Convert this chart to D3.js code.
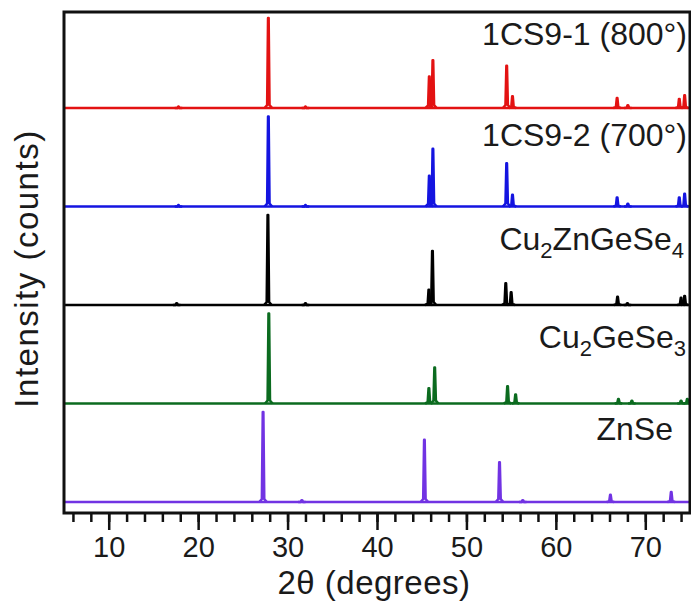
<!DOCTYPE html>
<html lang="en">
<head>
  <meta charset="UTF-8">
  <title>XRD patterns</title>
  <script src="https://d3js.org/d3.v7.min.js"></script>
  <style>
    body { margin: 0; background: #fff; }
    svg text { font-family: "Liberation Sans", Arial, sans-serif; fill: #1a1a1a; }
  </style>
</head>
<body>
<svg id="xrd"></svg>
<script>
  // Peak lists: [2theta, relative intensity %]
  const znse = [[27.26, 100], [31.6, 2], [45.3, 69], [53.7, 44], [56.3, 2], [66.1, 8], [72.9, 11]];
  const cu2gese3 = [[27.9, 100], [45.8, 17], [46.45, 40], [54.6, 19], [55.5, 10], [67.0, 5], [68.5, 3], [74.0, 3], [74.7, 5]];
  const cu2zngese4 = [[17.6, 2], [27.8, 100], [32.0, 2], [45.8, 17], [46.2, 60], [54.4, 24], [55.0, 14], [66.9, 9], [68.0, 2], [74.0, 8], [74.4, 10]];
  const cs9_2 = [[17.8, 1.5], [27.85, 100], [32.0, 1.5], [45.85, 34], [46.25, 64], [54.5, 48], [55.15, 13], [66.85, 10], [68.05, 3], [73.8, 10], [74.4, 14]];
  const cs9_1 = [[17.8, 1.5], [27.85, 100], [32.0, 1.5], [45.85, 35], [46.25, 53], [54.5, 47], [55.15, 13], [66.85, 11], [68.05, 3], [73.8, 10], [74.4, 14]];

  // bottom to top
  const series = [znse, cu2gese3, cu2zngese4, cs9_2, cs9_1];
  const names = [
    [["ZnSe"]],
    [["Cu"], ["2", "sub"], ["GeSe"], ["3", "sub"]],
    [["Cu"], ["2", "sub"], ["ZnGeSe"], ["4", "sub"]],
    [["1CS9-2 (700°)"]],
    [["1CS9-1 (800°)"]]
  ];
  const colors = ["#7133e3", "#0b6b1f", "#000000", "#1414e0", "#e31212"];
  const xTicks = [10, 20, 30, 40, 50, 60, 70];

  const W = 691, H = 604;
  const m = { left: 64, right: 690, top: 12, bottom: 513 };

  const svg = d3.select("#xrd").attr("width", W).attr("height", H);

  const x = d3.scaleLinear().domain([5, 75]).range([m.left, m.right]);
  const y = d3.scaleLinear().domain([0, 100]).range([0, 90]);
  const base = d3.scaleLinear().domain([0, series.length - 1]).range([502, 108]);

  const line = d3.line().x(d => x(d[0])).y(d => d[1]);

  // peak drawn as a sharp spike with a small foot
  function peakShape(p, i) {
    const b = base(i), h = y(p[1]);
    return [[p[0] - 0.42, b], [p[0] - 0.13, b - Math.min(3, h * 0.08)],
            [p[0] - 0.03, b - h], [p[0] + 0.03, b - h],
            [p[0] + 0.13, b - Math.min(3, h * 0.08)], [p[0] + 0.42, b]];
  }

  const plot = svg.append("g");
  series.forEach((peaks, i) => {
    const g = plot.append("g")
      .attr("stroke", colors[i]).attr("fill", "none")
      .attr("stroke-width", 2.6).attr("stroke-linejoin", "round");
    g.append("path").attr("d", line([[5, base(i)], [75, base(i)]]));
    peaks.forEach(p => g.append("path").attr("d", line(peakShape(p, i))));
  });

  // series labels
  const labelRaise = [62, 56, 55, 61, 63];
  const labelRight = [673, 686, 684, 687, 687];
  names.forEach((parts, i) => {
    const t = svg.append("text")
      .attr("x", labelRight[i]).attr("y", base(i) - labelRaise[i])
      .attr("text-anchor", "end").style("font-size", "32px");
    let down = false;
    parts.forEach(part => {
      const s = t.append("tspan").text(part[0]);
      if (part[1] === "sub") {
        s.style("font-size", "22px").attr("dy", 8);
        down = true;
      } else if (down) {
        s.attr("dy", -8);
        down = false;
      }
    });
  });

  // frame
  svg.append("rect")
    .attr("x", m.left).attr("y", m.top)
    .attr("width", m.right - m.left).attr("height", m.bottom - m.top)
    .attr("fill", "none").attr("stroke", "#111").attr("stroke-width", 3);

  // x axis with minor ticks every 2 degrees
  const axis = svg.append("g").attr("transform", `translate(0,${m.bottom})`);
  axis.call(d3.axisBottom(x)
      .tickValues(d3.range(6, 75, 2))
      .tickSize(9).tickFormat(""))
    .call(g => g.select(".domain").remove())
    .call(g => g.selectAll("line").attr("stroke", "#111").attr("stroke-width", 2.5));
  axis.append("g")
    .call(d3.axisBottom(x).tickValues(xTicks).tickSize(17).tickPadding(6))
    .call(g => g.select(".domain").remove())
    .call(g => g.selectAll("line").attr("stroke", "#111").attr("stroke-width", 2.5))
    .call(g => g.selectAll("text")
      .style("font-size", "29px")
      .style("font-family", "'Liberation Sans', Arial, sans-serif")
      .attr("fill", "#1a1a1a"));

  // axis titles
  svg.append("text")
    .attr("x", (m.left + m.right) / 2 - 3).attr("y", 594)
    .attr("text-anchor", "middle").style("font-size", "33px")
    .style("letter-spacing", "0.5px")
    .text("2θ (degrees)");

  svg.append("text")
    .attr("transform", `translate(38,${(m.top + m.bottom) / 2 + 6}) rotate(-90)`)
    .attr("text-anchor", "middle").style("font-size", "33px")
    .style("letter-spacing", "1.5px")
    .text("Intensity (counts)");
</script>
</body>
</html>
